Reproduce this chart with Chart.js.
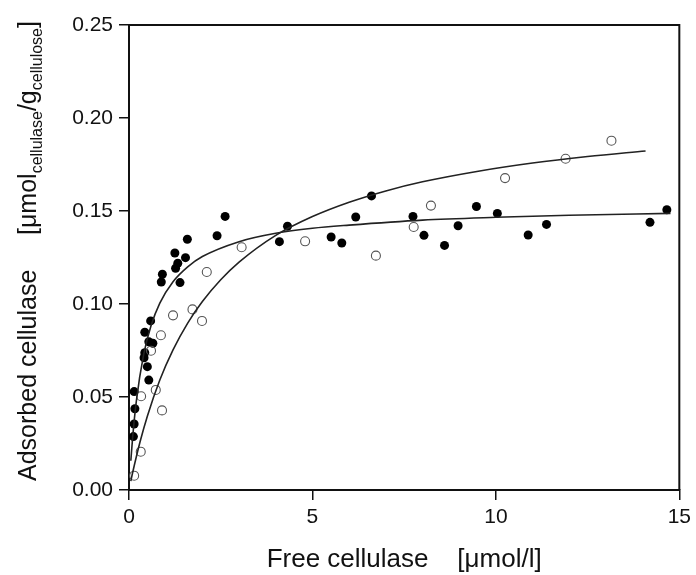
<!DOCTYPE html>
<html>
<head>
<meta charset="utf-8">
<title>Cellulase adsorption</title>
<script src="https://cdn.jsdelivr.net/npm/chart.js@4.4.1/dist/chart.umd.min.js"></script>
<style>
    html, body { margin: 0; padding: 0; background: #fff; }
    #wrap { width: 696px; height: 575px; }
</style>
</head>
<body>
<div id="wrap"><canvas id="chart" width="696" height="575"></canvas></div>
<script>
// Filled circles (measured)
const filledX = [0.12, 0.14, 0.16, 0.14, 0.54, 0.50, 0.41, 0.43, 0.54, 0.65, 0.43, 0.59,
    0.88, 0.91, 1.39, 1.27, 1.33, 1.25, 1.54, 1.59, 2.40, 2.62, 4.10, 4.32, 5.51, 5.80,
    6.18, 6.61, 7.74, 8.04, 8.60, 8.97, 9.47, 10.04, 10.88, 11.38, 14.20, 14.66];
const filledY = [0.0287, 0.0355, 0.0437, 0.0529, 0.0591, 0.0663, 0.0711, 0.0738, 0.0797, 0.0789, 0.0848, 0.0909,
    0.1118, 0.1160, 0.1115, 0.1192, 0.1219, 0.1274, 0.1249, 0.1348, 0.1367, 0.1471, 0.1335, 0.1418, 0.1360, 0.1328,
    0.1468, 0.1581, 0.1471, 0.1369, 0.1315, 0.1421, 0.1524, 0.1487, 0.1371, 0.1428, 0.1439, 0.1507];

// Open circles (measured)
const openX = [0.14, 0.32, 0.33, 0.73, 0.90, 0.60, 0.87, 1.20, 1.99, 1.73, 2.12, 3.07,
    4.80, 6.73, 7.76, 8.23, 10.25, 11.90, 13.15];
const openY = [0.0077, 0.0206, 0.0504, 0.0538, 0.0428, 0.0749, 0.0832, 0.0939, 0.0909, 0.0971, 0.1172, 0.1305,
    0.1337, 0.1260, 0.1414, 0.1529, 0.1677, 0.1781, 0.1878];

// Fitted curves
const fitFilledX = [0.05, 0.1, 0.2, 0.4, 0.6, 0.84, 1.2, 1.6, 2.0, 3.0, 4.0, 5.0, 6.0, 8.0, 10.0, 12.0, 14.76];
const fitFilledY = [0.0157, 0.0284, 0.0478, 0.0729, 0.0883, 0.1005, 0.1120, 0.1200, 0.1255, 0.1335, 0.1380, 0.1407,
    0.1424, 0.1451, 0.1466, 0.1477, 0.1487];
const fitOpenX = [0.05, 0.1, 0.3, 0.5, 0.84, 1.2, 1.6, 2.0, 2.5, 3.0, 4.0, 5.0, 6.0, 7.0, 8.0, 9.52, 11.0, 12.5, 14.08];
const fitOpenY = [0.0048, 0.0094, 0.0258, 0.0397, 0.0591, 0.0753, 0.0897, 0.1013, 0.1130, 0.1225, 0.1369, 0.1470,
    0.1547, 0.1608, 0.1657, 0.1714, 0.1758, 0.1793, 0.1823];

const yTicks = [0, 0.05, 0.10, 0.15, 0.20, 0.25];
const xTicks = [0, 5, 10, 15];

const xTitle = 'Free cellulase    [\u03bcmol/l]';
const yTitleParts = [
    { text: 'Adsorbed cellulase     [\u03bcmol', sub: false },
    { text: 'cellulase', sub: true },
    { text: '/g', sub: false },
    { text: 'cellulose', sub: true },
    { text: ']', sub: false }
];

const FONT = '"Liberation Sans", Arial, sans-serif';
const INK = '#111';

function pairs(xs, ys) {
    return xs.map((x, i) => ({ x: x, y: ys[i] }));
}

// top + right border of the frame
const framePlugin = {
    id: 'frame',
    afterDatasetsDraw(chart) {
        const a = chart.chartArea;
        const ctx = chart.ctx;
        ctx.save();
        ctx.strokeStyle = INK;
        ctx.lineWidth = 2;
        ctx.beginPath();
        ctx.moveTo(a.left, a.top);
        ctx.lineTo(a.right, a.top);
        ctx.lineTo(a.right, a.bottom);
        ctx.stroke();
        ctx.restore();
    }
};

// y axis title with subscripts
const yTitlePlugin = {
    id: 'yTitle',
    afterDraw(chart) {
        const ctx = chart.ctx;
        ctx.save();
        let total = 0;
        yTitleParts.forEach(p => {
            ctx.font = (p.sub ? '16px ' : '25px ') + FONT;
            total += ctx.measureText(p.text).width;
        });
        ctx.translate(36, 251 + total / 2);
        ctx.rotate(-Math.PI / 2);
        ctx.fillStyle = INK;
        ctx.textBaseline = 'alphabetic';
        let pos = 0;
        yTitleParts.forEach(p => {
            ctx.font = (p.sub ? '16px ' : '25px ') + FONT;
            ctx.fillText(p.text, pos, p.sub ? 6 : 0);
            pos += ctx.measureText(p.text).width;
        });
        ctx.restore();
    }
};

new Chart(document.getElementById('chart'), {
    type: 'scatter',
    data: {
        datasets: [{
            label: 'fit open',
            type: 'line',
            data: pairs(fitOpenX, fitOpenY),
            borderColor: '#222',
            borderWidth: 1.6,
            pointRadius: 0,
            fill: false,
            cubicInterpolationMode: 'monotone'
        }, {
            label: 'fit filled',
            type: 'line',
            data: pairs(fitFilledX, fitFilledY),
            borderColor: '#222',
            borderWidth: 1.6,
            pointRadius: 0,
            fill: false,
            cubicInterpolationMode: 'monotone'
        }, {
            label: 'open',
            data: pairs(openX, openY),
            pointRadius: 4.5,
            pointBackgroundColor: 'rgba(255,255,255,0)',
            pointBorderColor: '#555',
            pointBorderWidth: 1.1
        }, {
            label: 'filled',
            data: pairs(filledX, filledY),
            pointRadius: 4.5,
            pointBackgroundColor: '#000',
            pointBorderColor: '#000',
            pointBorderWidth: 0
        }]
    },
    options: {
        responsive: false,
        animation: false,
        layout: { padding: { top: 25, right: 14, left: 0, bottom: 0 } },
        plugins: {
            legend: { display: false },
            tooltip: { enabled: false }
        },
        scales: {
            x: {
                type: 'linear',
                min: 0,
                max: 15,
                afterBuildTicks: function(scale) {
                    scale.ticks = xTicks.map(v => ({ value: v }));
                },
                afterFit: function(scale) { scale.height = 85; },
                ticks: {
                    color: INK,
                    padding: 5,
                    maxRotation: 0,
                    font: { family: FONT, size: 21 },
                    callback: v => String(v)
                },
                grid: { drawOnChartArea: false, drawTicks: true, tickLength: 10, color: INK, lineWidth: 1.5 },
                border: { display: true, color: INK, width: 2 },
                title: {
                    display: true,
                    text: xTitle,
                    color: INK,
                    padding: { top: 0, bottom: 0 },
                    font: { family: FONT, size: 26 }
                }
            },
            y: {
                type: 'linear',
                min: 0,
                max: 0.25,
                afterBuildTicks: function(scale) {
                    scale.ticks = yTicks.map(v => ({ value: v }));
                },
                afterFit: function(scale) { scale.width = 129; },
                ticks: {
                    color: INK,
                    padding: 6,
                    font: { family: FONT, size: 21 },
                    callback: v => v.toFixed(2)
                },
                grid: { drawOnChartArea: false, drawTicks: true, tickLength: 10, color: INK, lineWidth: 1.5 },
                border: { display: true, color: INK, width: 2 }
            }
        }
    },
    plugins: [framePlugin, yTitlePlugin]
});
</script>
</body>
</html>
